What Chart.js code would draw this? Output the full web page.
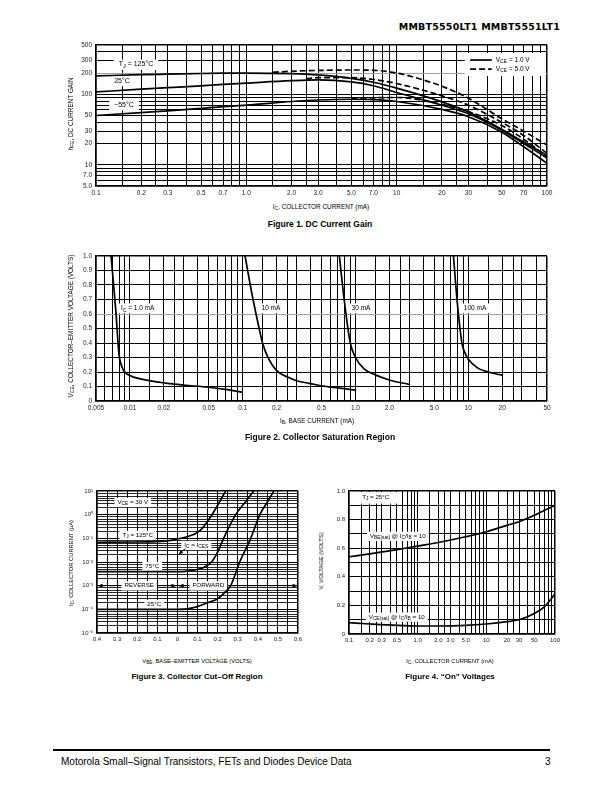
<!DOCTYPE html>
<html lang="en">
<head>
<meta charset="UTF-8">
<title>MMBT5550LT1 MMBT5551LT1 - typical characteristics</title>
<script src="https://cdn.jsdelivr.net/npm/chart.js"></script>
<style>
  body { margin: 0; background: #fff; }
  #page { position: relative; width: 612px; height: 792px; overflow: hidden; background: #fff;
          font-family: "Liberation Sans", Arial, Helvetica, sans-serif; color: #000; }
  #page canvas { position: absolute; }
  .t { position: absolute; white-space: nowrap; line-height: 1; transform: translate(-50%, -50%); }
  .t.rot { transform: translate(-50%, -50%) rotate(-90deg); }
  .t.b { font-weight: bold; }
  sub { font-size: 78%; vertical-align: -0.3em; line-height: 0; }
  #hdr { position: absolute; right: 52px; top: 22px; font-family: "DejaVu Sans", sans-serif; font-weight: bold;
         font-size: 9.5px; line-height: 10px; letter-spacing: 0.2px; }
  #rule { position: absolute; left: 53px; top: 749px; width: 497px; height: 2px; background: #000; }
  #foot { position: absolute; left: 61px; top: 757px; font-size: 10px; line-height: 10px; }
  #pno { position: absolute; left: 545px; top: 757px; font-size: 10px; line-height: 10px; }
</style>
</head>
<body>
<div id="page">
  <div id="hdr">MMBT5550LT1 MMBT5551LT1</div>
  <canvas id="fig1"></canvas>
  <canvas id="fig2"></canvas>
  <canvas id="fig3"></canvas>
  <canvas id="fig4"></canvas>
  <div id="rule"></div>
  <div id="foot">Motorola Small–Signal Transistors, FETs and Diodes Device Data</div>
  <div id="pno">3</div>
</div>
<script>
// ---------- Figure 1: DC current gain (hFE vs IC, mA) ----------
const f1IcSolid = [0.1, 0.2, 0.3, 0.5, 0.7, 1.0, 2.0, 3.0, 5.0, 7.0, 10, 20, 30, 50, 70, 100];
const f1Hfe125Solid = [182, 190, 193, 197, 199, 200, 196, 188, 168, 148, 122, 78, 56, 32, 21, 13.5];
const f1Hfe25Solid = [108, 118, 124, 132, 138, 144, 156, 160, 150, 132, 106, 70, 53, 31, 20, 12.5];
const f1HfeM55Solid = [50, 55, 58, 63, 67, 70, 79, 83, 85, 84, 79, 61, 48, 29, 18, 10.5];
const f1Ic125Dash = [1.5, 2.0, 3.0, 5.0, 7.0, 10, 15, 20, 30, 50, 70, 100];
const f1Hfe125Dash = [205, 212, 218, 221, 219, 200, 160, 130, 88, 45, 30, 19];
const f1Ic25Dash = [2.5, 3.0, 5.0, 7.0, 10, 20, 30, 50, 70, 100];
const f1Hfe25Dash = [165, 172, 172, 162, 142, 95, 70, 40, 26, 14.5];
const f1IcM55Dash = [5.0, 7.0, 10, 20, 30, 50, 70, 100];
const f1HfeM55Dash = [86, 89, 90, 72, 57, 36, 23, 13];
const f1XLabelVals = [0.1, 0.2, 0.3, 0.5, 0.7, 1, 2, 3, 5, 7, 10, 20, 30, 50, 70, 100];
const f1XLabels = ['0.1', '0.2', '0.3', '0.5', '0.7', '1.0', '2.0', '3.0', '5.0', '7.0', '10', '20', '30', '50', '70', '100'];
const f1YLabelVals = [5, 7, 10, 20, 30, 50, 100, 200, 300, 500];
const f1YLabels = ['5.0', '7.0', '10', '20', '30', '50', '100', '200', '300', '500'];
// [text, x (mA), y (hFE)]
const f1Notes = [['T_{J} = 125°C', 0.1845, 264], ['25°C', 0.149, 156], ['−55°C', 0.1535, 70.5]];
// [text, dashed, y (hFE)]
const f1Legend = [['V_{CE} = 1.0 V', false, 306], ['V_{CE} = 5.0 V', true, 228]];

// ---------- Figure 2: collector saturation region (VCE vs IB, mA) ----------
const f2Ib1 = [0.0068, 0.0075, 0.008, 0.0085, 0.009, 0.01, 0.015, 0.02, 0.03, 0.05, 0.07, 0.1];
const f2Vce1 = [1.0, 0.62, 0.32, 0.235, 0.2, 0.175, 0.14, 0.125, 0.11, 0.095, 0.08, 0.06];
const f2Ib10 = [0.105, 0.12, 0.14, 0.15, 0.17, 0.2, 0.25, 0.3, 0.4, 0.5, 0.7, 1.0];
const f2Vce10 = [1.0, 0.75, 0.5, 0.4, 0.29, 0.21, 0.165, 0.14, 0.12, 0.105, 0.09, 0.075];
const f2Ib30 = [0.72, 0.8, 0.9, 1.0, 1.2, 1.5, 2.0, 3.0];
const f2Vce30 = [1.0, 0.68, 0.4, 0.3, 0.22, 0.18, 0.145, 0.115];
const f2Ib100 = [7.4, 8.0, 8.8, 9.5, 10, 12, 15, 20];
const f2Vce100 = [1.0, 0.68, 0.4, 0.32, 0.29, 0.23, 0.2, 0.178];
const f2XLabelVals = [0.005, 0.01, 0.02, 0.05, 0.1, 0.2, 0.5, 1, 2, 5, 10, 20, 50];
const f2XLabels = ['0.005', '0.01', '0.02', '0.05', '0.1', '0.2', '0.5', '1.0', '2.0', '5.0', '10', '20', '50'];
const f2Notes = [['I_{C} = 1.0 mA', 0.0117, 0.64], ['10 mA', 0.178, 0.64], ['30 mA', 1.12, 0.64], ['100 mA', 11.5, 0.64]];

// ---------- Figure 3: collector cut-off region (IC µA vs VBE) ----------
const f3V125 = [-0.4, -0.2, -0.06, 0, 0.08, 0.115, 0.165, 0.2, 0.24];
const f3I125 = [0.068, 0.07, 0.076, 0.093, 0.145, 0.22, 0.8, 2.5, 10];
const f3V75 = [-0.4, 0, 0.05, 0.1, 0.14, 0.17, 0.2, 0.23, 0.29, 0.335, 0.38];
const f3I75 = [0.0039, 0.0039, 0.0041, 0.0048, 0.0065, 0.01, 0.026, 0.1, 1.0, 3.2, 10];
const f3V25 = [-0.4, 0, 0.05, 0.1, 0.15, 0.2, 0.24, 0.265, 0.31, 0.365, 0.41, 0.445, 0.48];
const f3I25 = [1e-4, 1e-4, 1.05e-4, 1.3e-4, 1.9e-4, 2.8e-4, 5.6e-4, 1e-3, 1e-2, 0.1, 1.0, 3.2, 10];
const f3XGrid = [-0.4, -0.35, -0.3, -0.25, -0.2, -0.15, -0.1, -0.05, 0, 0.05, 0.1, 0.15, 0.2, 0.25, 0.3, 0.35, 0.4, 0.45, 0.5, 0.55, 0.6];
const f3XLabelVals = [-0.4, -0.3, -0.2, -0.1, 0, 0.1, 0.2, 0.3, 0.4, 0.5, 0.6];
const f3XLabels = ['0.4', '0.3', '0.2', '0.1', '0', '0.1', '0.2', '0.3', '0.4', '0.5', '0.6'];
const f3YLabelVals = [1e-5, 1e-4, 1e-3, 1e-2, 1e-1, 1, 10];
const f3YLabels = ['10⁻⁵', '10⁻⁴', '10⁻³', '10⁻²', '10⁻¹', '10⁰', '10¹'];
const f3Notes = [['V_{CE} = 30 V', -0.222, 3.33], ['T_{J} = 125°C', -0.197, 0.135], ['I_{C} = I_{CES}', 0.094, 0.051],
                 ['75°C', -0.125, 0.0066], ['REVERSE', -0.19, 1e-3], ['FORWARD', 0.154, 1e-3], ['25°C', -0.115, 1.65e-4]];
// [from V, to V] at IC = 1e-3, arrowheads on both ends
const f3Spans = [[-0.397, -0.005], [0.006, 0.598]];

// ---------- Figure 4: "On" voltages (V vs IC, mA) ----------
const f4Ic = [0.1, 0.2, 0.5, 1.0, 2.0, 5.0, 10, 20, 30, 50, 70, 100];
const f4VbeSat = [0.54, 0.56, 0.59, 0.615, 0.64, 0.68, 0.715, 0.76, 0.785, 0.83, 0.865, 0.9];
const f4VceSat = [0.079, 0.07, 0.06, 0.056, 0.056, 0.06, 0.07, 0.086, 0.1, 0.144, 0.19, 0.28];
const f4XLabelVals = [0.1, 0.2, 0.3, 0.5, 1, 2, 3, 5, 10, 20, 30, 50, 100];
const f4XLabels = ['0.1', '0.2', '0.3', '0.5', '1.0', '2.0', '3.0', '5.0', '10', '20', '30', '50', '100'];
const f4Notes = [['T_{J} = 25°C', 0.245, 0.956], ['V_{BE(sat)} @ I_{C}/I_{B} = 10', 0.513, 0.684], ['V_{CE(sat)} @ I_{C}/I_{B} = 10', 0.496, 0.119]];

// log gridline multiples per decade
const logMultsFine = [1, 1.5, 2, 2.5, 3, 4, 5, 6, 7, 8, 9];
const logMults = [1, 2, 3, 4, 5, 6, 7, 8, 9];
const logMultsCoarse = [1, 2, 3, 4, 5, 6, 8];

const FONT = '"Liberation Sans", Arial, Helvetica, sans-serif';
Chart.defaults.font.family = FONT;
Chart.defaults.color = '#222';
const AX_W = 40, AX_H = 16, PAD_T = 8, PAD_R = 14;

function near(a, b) { return Math.abs(a - b) <= 1e-7 * Math.max(Math.abs(a), Math.abs(b)) + 1e-12; }

function logGrid(min, max, mults) {
  const out = [];
  for (let e = Math.floor(Math.log10(min)); e <= Math.ceil(Math.log10(max)); e++) {
    mults.forEach(m => {
      const v = +(m * Math.pow(10, e)).toPrecision(8);
      if (v >= min * 0.999999 && v <= max * 1.000001) out.push(v);
    });
  }
  return out;
}

function labeler(vals, texts) {
  return v => { const i = vals.findIndex(x => near(x, v)); return i < 0 ? '' : texts[i]; };
}

function axis(type, min, max, gridVals, labelFn, isX, size, grayAt, minorWidth) {
  const a = {
    type, min, max,
    afterFit: s => { if (isX) s.height = AX_H; else s.width = AX_W; },
    ticks: { autoSkip: false, maxRotation: 0, minRotation: 0, padding: isX ? 3 : 4,
             font: { size }, color: '#222', callback: labelFn },
    grid: {
      drawTicks: false,
      color: c => (grayAt !== undefined && c.tick && near(c.tick.value, grayAt)) ? '#a0a0a0' : '#000',
      lineWidth: c => {
        if (c.index === 0 || (c.tick && near(c.tick.value, max))) return 1.5;
        if (minorWidth && c.tick && !near(Math.log10(c.tick.value), Math.round(Math.log10(c.tick.value)))) return minorWidth;
        return 1;
      }
    },
    border: { color: '#000', width: 1.5 }
  };
  if (gridVals) a.afterBuildTicks = s => { s.ticks = gridVals.map(v => ({ value: v })); };
  return a;
}

function curve(xs, ys, dashed) {
  return { data: xs.map((x, i) => ({ x, y: ys[i] })), showLine: true, borderColor: '#000', borderWidth: 1.7,
           borderDash: dashed ? [6, 3] : [], pointRadius: 0, cubicInterpolationMode: 'monotone', fill: false };
}

function place(id, l, t, r, b) {
  const c = document.getElementById(id);
  c.width = r - l + AX_W + PAD_R;
  c.height = b - t + PAD_T + AX_H;
  c.style.left = (l - AX_W) + 'px';
  c.style.top = (t - PAD_T) + 'px';
  return c;
}

function drawRich(ctx, str, x, y, size, opts) {
  opts = opts || {};
  const parts = [];
  const re = /_\{([^}]*)\}/g;
  let last = 0, m;
  while ((m = re.exec(str))) {
    if (m.index > last) parts.push({ t: str.slice(last, m.index), s: false });
    parts.push({ t: m[1], s: true });
    last = re.lastIndex;
  }
  if (last < str.length) parts.push({ t: str.slice(last), s: false });
  let w = 0;
  parts.forEach(p => { ctx.font = (p.s ? size * 0.78 : size) + 'px ' + FONT; p.w = ctx.measureText(p.t).width; w += p.w; });
  let x0 = opts.align === 'left' ? x : x - w / 2;
  if (opts.pad !== undefined) {
    ctx.fillStyle = '#fff';
    ctx.fillRect(x0 - opts.pad, y - size * 0.72, w + 2 * opts.pad, size * 1.5);
  }
  ctx.fillStyle = '#000';
  ctx.textAlign = 'left';
  ctx.textBaseline = 'middle';
  parts.forEach(p => {
    ctx.font = (p.s ? size * 0.78 : size) + 'px ' + FONT;
    ctx.fillText(p.t, x0, p.s ? y + size * 0.3 : y);
    x0 += p.w;
  });
  return w;
}

function px(chart, x, y) { return [chart.scales.x.getPixelForValue(x), chart.scales.y.getPixelForValue(y)]; }

function arrowHead(ctx, x1, y1, x2, y2, len, half) {
  const a = Math.atan2(y2 - y1, x2 - x1);
  ctx.beginPath();
  ctx.moveTo(x2, y2);
  ctx.lineTo(x2 - len * Math.cos(a) + half * Math.sin(a), y2 - len * Math.sin(a) - half * Math.cos(a));
  ctx.lineTo(x2 - len * Math.cos(a) - half * Math.sin(a), y2 - len * Math.sin(a) + half * Math.cos(a));
  ctx.closePath();
  ctx.fill();
}

function notes(fn) {
  return { id: 'notes', beforeDatasetsDraw(chart) { const ctx = chart.ctx; ctx.save(); fn(chart, ctx); ctx.restore(); } };
}

function makeChart(canvas, datasets, xAxis, yAxis, plugin) {
  return new Chart(canvas, {
    type: 'scatter',
    data: { datasets },
    options: {
      responsive: false, animation: false, events: [],
      layout: { padding: { left: 0, top: PAD_T, right: PAD_R, bottom: 0 } },
      plugins: { legend: { display: false }, tooltip: { enabled: false } },
      scales: { x: xAxis, y: yAxis }
    },
    plugins: [plugin]
  });
}

// ----- Figure 1 -----
makeChart(place('fig1', 96, 45, 547, 186), [
    curve(f1IcSolid, f1Hfe125Solid, false), curve(f1IcSolid, f1Hfe25Solid, false), curve(f1IcSolid, f1HfeM55Solid, false),
    curve(f1Ic125Dash, f1Hfe125Dash, true), curve(f1Ic25Dash, f1Hfe25Dash, true), curve(f1IcM55Dash, f1HfeM55Dash, true)
  ],
  axis('logarithmic', 0.1, 100, logGrid(0.1, 100, logMultsFine), labeler(f1XLabelVals, f1XLabels), true, 6.5),
  axis('logarithmic', 5, 500, logGrid(5, 500, logMults), labeler(f1YLabelVals, f1YLabels), false, 6.5, 200),
  notes((chart, ctx) => {
    f1Notes.forEach(([t, x, y]) => { const [X, Y] = px(chart, x, y); drawRich(ctx, t, X, Y, 7, { pad: 5 }); });
    const ca = chart.chartArea;
    const [bx] = px(chart, 28.4, 385);
    const [, by1] = px(chart, 28.4, 385);
    const [, by2] = px(chart, 28.4, 182);
    ctx.fillStyle = '#fff';
    ctx.fillRect(bx, by1, ca.right - 1 - bx, by2 - by1);
    f1Legend.forEach(([t, dashed, yv]) => {
      const [x1, y] = px(chart, 30.8, yv);
      const [x2] = px(chart, 42.9, yv);
      ctx.strokeStyle = '#000'; ctx.lineWidth = 1.7; ctx.setLineDash(dashed ? [6, 3] : []);
      ctx.beginPath(); ctx.moveTo(x1, y); ctx.lineTo(x2, y); ctx.stroke();
      ctx.setLineDash([]);
      drawRich(ctx, t, x2 + 4, y, 6.5, { align: 'left' });
    });
  }));

// ----- Figure 2 -----
makeChart(place('fig2', 96, 256, 547, 401), [
    curve(f2Ib1, f2Vce1, false), curve(f2Ib10, f2Vce10, false), curve(f2Ib30, f2Vce30, false), curve(f2Ib100, f2Vce100, false)
  ],
  axis('logarithmic', 0.005, 50, logGrid(0.005, 50, logMultsFine), labeler(f2XLabelVals, f2XLabels), true, 6.5),
  Object.assign(axis('linear', 0, 1, null, v => (Math.abs(v) < 1e-9 ? '0' : v.toFixed(1)), false, 6.5, 0.6),
                { afterBuildTicks: s => { s.ticks = [0, 0.1, 0.2, 0.3, 0.4, 0.5, 0.6, 0.7, 0.8, 0.9, 1].map(v => ({ value: v })); } }),
  notes((chart, ctx) => {
    f2Notes.forEach(([t, x, y]) => { const [X, Y] = px(chart, x, y); drawRich(ctx, t, X, Y, 6.5, { pad: 3 }); });
  }));

// ----- Figure 3 -----
makeChart(place('fig3', 97, 491, 298, 633), [
    curve(f3V125, f3I125, false), curve(f3V75, f3I75, false), curve(f3V25, f3I25, false)
  ],
  axis('linear', -0.4, 0.6, f3XGrid, labeler(f3XLabelVals, f3XLabels), true, 6),
  axis('logarithmic', 1e-5, 10, logGrid(1e-5, 10, logMultsCoarse), labeler(f3YLabelVals, f3YLabels), false, 6, undefined, 0.85),
  notes((chart, ctx) => {
    ctx.fillStyle = '#000'; ctx.strokeStyle = '#000'; ctx.lineWidth = 1;
    f3Spans.forEach(([a, b]) => {
      const [x1, y] = px(chart, a, 1e-3);
      const [x2] = px(chart, b, 1e-3);
      ctx.beginPath(); ctx.moveTo(x1, y); ctx.lineTo(x2, y); ctx.stroke();
      arrowHead(ctx, x2, y, x1, y, 5, 2);
      arrowHead(ctx, x1, y, x2, y, 5, 2);
    });
    f3Notes.forEach(([t, x, y]) => { const [X, Y] = px(chart, x, y); drawRich(ctx, t, X, Y, 6.2, { pad: 3 }); });
    // IC = ICES pointer
    const [ax1, ay1] = px(chart, 0.04, Math.pow(10, -1.43));
    const [ax2, ay2] = px(chart, 0.007, Math.pow(10, -1.67));
    ctx.fillStyle = '#000'; ctx.lineWidth = 1;
    ctx.beginPath(); ctx.moveTo(ax1, ay1); ctx.lineTo(ax2, ay2); ctx.stroke();
    arrowHead(ctx, ax1, ay1, ax2, ay2, 4, 2);
  }));

// ----- Figure 4 -----
makeChart(place('fig4', 349, 491, 555, 634), [
    curve(f4Ic, f4VbeSat, false), curve(f4Ic, f4VceSat, false)
  ],
  axis('logarithmic', 0.1, 100, logGrid(0.1, 100, logMultsFine), labeler(f4XLabelVals, f4XLabels), true, 6),
  Object.assign(axis('linear', 0, 1, null, v => { const k = Math.round(v * 10); return k % 2 ? '' : (k === 0 ? '0' : (k / 10).toFixed(1)); }, false, 6),
                { afterBuildTicks: s => { s.ticks = [0, 0.1, 0.2, 0.3, 0.4, 0.5, 0.6, 0.7, 0.8, 0.9, 1].map(v => ({ value: v })); } }),
  notes((chart, ctx) => {
    const ca = chart.chartArea;
    const [tx, ty] = px(chart, f4Notes[0][1], f4Notes[0][2]);
    ctx.fillStyle = '#fff';
    ctx.fillRect(ca.left + 1, ca.top + 1, (tx - ca.left) * 2 - 4, (ty - ca.top) * 2 - 1);
    f4Notes.forEach(([t, x, y], i) => { const [X, Y] = px(chart, x, y); drawRich(ctx, t, X, Y, 6.2, i ? { pad: 3 } : {}); });
  }));

// ----- axis titles and captions -----
const pageTexts = [
  ['h<sub>FE</sub>, DC CURRENT GAIN', 71, 114, 6.4, false, true],
  ['I<sub>C</sub>, COLLECTOR CURRENT (mA)', 321, 207, 6.4, false, false],
  ['Figure 1. DC Current Gain', 320, 224, 8.5, true, false],
  ['V<sub>CE</sub>, COLLECTOR–EMITTER VOLTAGE (VOLTS)', 71, 326, 6.4, false, true],
  ['I<sub>B</sub>, BASE CURRENT (mA)', 317, 421, 6.4, false, false],
  ['Figure 2. Collector Saturation Region', 320, 437, 8.5, true, false],
  ['I<sub>C</sub>, COLLECTOR CURRENT (μA)', 72, 563, 5.8, false, true],
  ['V<sub>BE</sub>, BASE–EMITTER VOLTAGE (VOLTS)', 197, 662, 5.8, false, false],
  ['Figure 3. Collector Cut–Off Region', 197, 677, 8, true, false],
  ['V, VOLTAGE (VOLTS)', 322, 561, 5.8, false, true],
  ['I<sub>C</sub>, COLLECTOR CURRENT (mA)', 450, 662, 5.8, false, false],
  ['Figure 4. “On” Voltages', 450, 677, 8, true, false]
];
const page = document.getElementById('page');
pageTexts.forEach(([html, x, y, size, bold, rot]) => {
  const d = document.createElement('div');
  d.className = 't' + (bold ? ' b' : '') + (rot ? ' rot' : '');
  d.innerHTML = html;
  d.style.left = x + 'px';
  d.style.top = y + 'px';
  d.style.fontSize = size + 'px';
  page.appendChild(d);
});
</script>
</body>
</html>
